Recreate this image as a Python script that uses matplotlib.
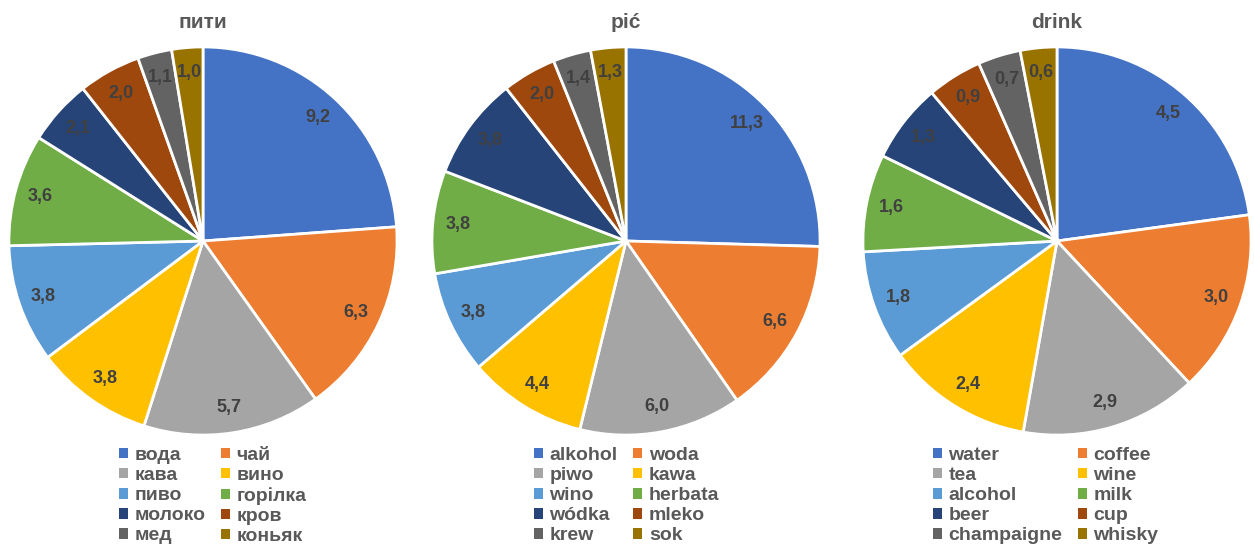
import matplotlib
matplotlib.use("Agg")
import matplotlib.pyplot as plt

plt.rcParams['font.family'] = ['Liberation Sans', 'DejaVu Sans']

# slice colours, same order for all three pies
colors = ["#4472C4", "#ED7D31", "#A5A5A5", "#FFC000", "#5B9BD5",
          "#70AD47", "#264478", "#9E480E", "#636363", "#997300"]

uk_title = "пити"
uk_labels = ["вода", "чай", "кава", "вино", "пиво",
             "горілка", "молоко", "кров", "мед", "коньяк"]
uk_values = [9.2, 6.3, 5.7, 3.8, 3.8, 3.6, 2.1, 2.0, 1.1, 1.0]

pl_title = "pić"
pl_labels = ["alkohol", "woda", "piwo", "kawa", "wino",
             "herbata", "wódka", "mleko", "krew", "sok"]
pl_values = [11.3, 6.6, 6.0, 4.4, 3.8, 3.8, 3.8, 2.0, 1.4, 1.3]

en_title = "drink"
en_labels = ["water", "coffee", "tea", "wine", "alcohol",
             "milk", "beer", "cup", "champaigne", "whisky"]
en_values = [4.5, 3.0, 2.9, 2.4, 1.8, 1.6, 1.3, 0.9, 0.7, 0.6]

charts = [
    (uk_title, uk_labels, uk_values),
    (pl_title, pl_labels, pl_values),
    (en_title, en_labels, en_values),
]

W, H = 1254, 548
fig = plt.figure(figsize=(W / 100, H / 100), dpi=100)

centers_x = [203, 626, 1057]
center_y = 241
radius = 196
legend_x = [119, 534, 933]
legend_top = 447

for (title, labels, values), cx, lx in zip(charts, centers_x, legend_x):
    ax = fig.add_axes([(cx - radius) / W, (H - center_y - radius) / H,
                       2 * radius / W, 2 * radius / H])
    total = sum(values)
    wedges, _, autotexts = ax.pie(
        values, colors=colors, startangle=90, counterclock=False,
        radius=1, pctdistance=0.87,
        autopct=lambda p, t=total: f"{p * t / 100:.1f}".replace(".", ","),
        wedgeprops=dict(edgecolor="white", linewidth=2),
        textprops=dict(color="#404040", fontsize=13, fontweight="bold"))
    ax.set_xlim(-1.01, 1.01)
    ax.set_ylim(-1.01, 1.01)
    ax.set_aspect("equal")
    ax.axis("off")

    fig.text(cx / W, 1 - 23 / H, title, ha="center", va="center",
             fontsize=15, fontweight="bold", color="#595959")

    # legend is read row by row: reorder for matplotlib's column fill
    order = list(range(0, 10, 2)) + list(range(1, 10, 2))
    leg = fig.legend([wedges[i] for i in order], [labels[i] for i in order],
                     ncol=2, loc="upper left",
                     bbox_to_anchor=(lx / W, 1 - legend_top / H),
                     bbox_transform=fig.transFigure, frameon=False,
                     borderpad=0, borderaxespad=0,
                     handlelength=0.45, handleheight=0.45, handletextpad=0.35,
                     labelspacing=0.16, columnspacing=0.8,
                     prop=dict(size=14, weight="bold"))
    for t in leg.get_texts():
        t.set_color("#595959")
    for h in leg.legend_handles:
        h.set_edgecolor("none")

fig.savefig("out.png", dpi=100, facecolor="white")
